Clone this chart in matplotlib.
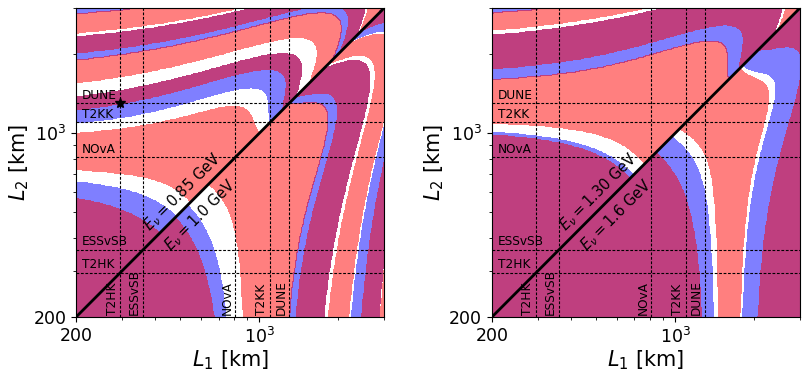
import numpy as np
import matplotlib
matplotlib.use("Agg")
import matplotlib.pyplot as plt
from matplotlib.ticker import NullFormatter

L_MIN, L_MAX = 200, 3000

experiments = ["T2HK", "ESSvSB", "NOvA", "T2KK", "DUNE"]
baselines = [295, 360, 810, 1100, 1300]

# energies shown above / below the diagonal of each panel (GeV)
energies_upper = [0.85, 1.30]
energies_lower = [1.0, 1.6]
energy_text_upper = ["0.85", "1.30"]
energy_text_lower = ["1.0", "1.6"]

# bands along the outer edge of each triangle (km)
red_upper = [
    [(0, 566), (726, 1000), (1227, 1375), (1555, 1900), (2020, 2330), (2410, 2850)],
    [(0, 986), (1094, 1600), (1760, 2365), (2470, 2870)],
]
blue_upper = [
    [(0, 653), (1094, 1375), (1900, 2330), (2850, 3100)],
    [(0, 1010), (1600, 2365), (2870, 3100)],
]
red_lower = [
    [(0, 672), (868, 1303), (1383, 1762), (1838, 2196), (2462, 2864), (2900, 3100)],
    [(0, 1264), (1463, 1770), (2074, 3100)],
]
blue_lower = [
    [(0, 747), (1303, 1762), (2250, 2864)],
    [(0, 1400), (1816, 3100)],
]

star_point = (295, 1300)


def edge_coord(L1, L2, E):
    # follow a band from a point back to the outer edge of its triangle
    big = np.maximum(L1, L2)
    small = np.minimum(L1, L2)
    h = 1 - 2 / (1 + np.exp(-(big - 960 * E) / (280 * E)))
    h = np.where(h < 0, h * (1 - (small / big) ** 2), h)
    return big + h * (small - L_MIN)


def in_bands(u, bands):
    m = np.zeros(u.shape, dtype=bool)
    for lo, hi in bands:
        m |= (u >= lo) & (u < hi)
    return m


L = np.logspace(np.log10(L_MIN), np.log10(L_MAX), 500)
L1g, L2g = np.meshgrid(L, L)
upper = L2g >= L1g

fig = plt.figure(figsize=(8.09, 3.77), dpi=100)
axes = [fig.add_axes([0.094, 0.159, 0.381, 0.820]),
        fig.add_axes([0.608, 0.159, 0.381, 0.820])]

for p, ax in enumerate(axes):
    u_up = edge_coord(L1g, L2g, energies_upper[p])
    u_lo = edge_coord(L1g, L2g, energies_lower[p])
    red = np.where(upper, in_bands(u_up, red_upper[p]), in_bands(u_lo, red_lower[p]))
    blue = np.where(upper, in_bands(u_up, blue_upper[p]), in_bands(u_lo, blue_lower[p]))
    ax.contourf(L1g, L2g, blue.astype(float), levels=[0.5, 1.5], colors=["#0000ff"], alpha=0.5)
    ax.contourf(L1g, L2g, red.astype(float), levels=[0.5, 1.5], colors=["#ff0000"], alpha=0.5)

    ax.set_xscale("log")
    ax.set_yscale("log")
    ax.set_xlim(L_MIN, L_MAX)
    ax.set_ylim(L_MIN, L_MAX)

    for name, b in zip(experiments, baselines):
        ax.axvline(b, color="k", lw=0.8, ls=(0, (2.5, 1.5)))
        ax.axhline(b, color="k", lw=0.8, ls=(0, (2.5, 1.5)))
        ax.text(211, b * 1.015, name, fontsize=8.7, ha="left", va="bottom")
        ax.text(b * 0.985, 204, name, fontsize=8.7, rotation=90, ha="right", va="bottom")

    ax.plot([L_MIN, L_MAX], [L_MIN, L_MAX], color="k", lw=2)
    ax.text(512, 598, r"$E_\nu = $" + energy_text_upper[p] + " GeV", fontsize=10.5,
            rotation=45, ha="center", va="center", rotation_mode="anchor")
    ax.text(598, 489, r"$E_\nu = $" + energy_text_lower[p] + " GeV", fontsize=10.5,
            rotation=45, ha="center", va="center", rotation_mode="anchor")

    ax.set_xticks([200, 1000])
    ax.set_xticklabels(["200", r"$10^3$"])
    ax.set_yticks([200, 1000])
    ax.set_yticklabels(["200", r"$10^3$"])
    minors = [300, 400, 500, 600, 700, 800, 900, 2000, 3000]
    ax.set_xticks(minors, minor=True)
    ax.set_yticks(minors, minor=True)
    ax.xaxis.set_minor_formatter(NullFormatter())
    ax.yaxis.set_minor_formatter(NullFormatter())
    ax.tick_params(labelsize=12.5)
    ax.set_xlabel(r"$L_1$ [km]", fontsize=15, labelpad=1)
    ax.set_ylabel(r"$L_2$ [km]", fontsize=15, labelpad=2)

axes[0].plot(*star_point, marker="*", color="k", ms=7)

fig.savefig("out.png", dpi=100)
